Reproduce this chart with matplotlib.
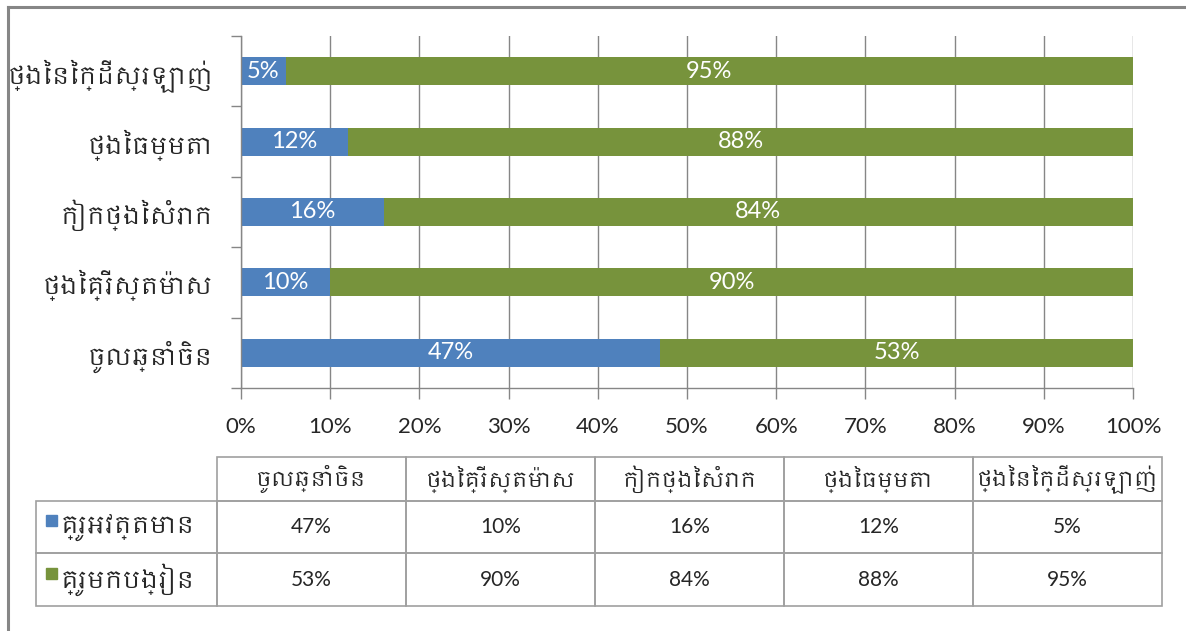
import matplotlib
matplotlib.use("Agg")
from matplotlib import pyplot as plt
from matplotlib import font_manager
from matplotlib.lines import Line2D
from matplotlib.patches import Rectangle
import numpy as np

# data
categories = ['ចូលឆ្នាំចិន', 'ថ្ងៃគ្រីស្តម៉ាស', 'កៀកថ្ងៃសំរាក', 'ថ្ងៃធម្មតា', 'ថ្ងៃនៃក្ដីស្រឡាញ់']
series_names = ['គ្រូអវត្តមាន', 'គ្រូមកបង្រៀន']
absent = [47, 10, 16, 12, 5]
present = [53, 90, 84, 88, 95]
x_ticks = list(range(0, 101, 10))

blue = '#4F81BD'
green = '#77933C'
grey = '#868686'
txt = '#262626'

# khmer font if any is installed
khmer = sorted({f.name for f in font_manager.fontManager.ttflist if 'khmer' in f.name.lower()})
kfam = khmer + ['Noto Sans', 'DejaVu Sans']
nfam = ['Lato', 'DejaVu Sans']

W, H = 1186, 631
fig = plt.figure(figsize=(W / 100, H / 100), dpi=100)

def fx(px):
    return px / W

def fy(py):
    return 1 - py / H

# bar chart area
ax = fig.add_axes([fx(241), fy(388), fx(1133) - fx(241), fy(36) - fy(388)])
y = np.arange(len(categories))
b1 = ax.barh(y, absent, height=0.4, color=blue, label=series_names[0])
b2 = ax.barh(y, present, left=absent, height=0.4, color=green, label=series_names[1])
ax.bar_label(b1, labels=[f'{v}%' for v in absent], label_type='center',
             color='white', fontsize=17, family=nfam)
ax.bar_label(b2, labels=[f'{v}%' for v in present], label_type='center',
             color='white', fontsize=17, family=nfam)

ax.set_xlim(0, 100)
ax.set_ylim(-0.5, len(categories) - 0.5)
ax.set_xticks(x_ticks)
ax.set_xticklabels([f'{t}%' for t in x_ticks], fontsize=16, family=nfam, color=txt)
ax.set_yticks(y)
ax.set_yticklabels(categories, fontsize=17, family=kfam, color=txt)
ax.set_yticks(np.arange(-0.5, len(categories)), minor=True)
ax.tick_params(axis='y', which='major', length=0, pad=20)
ax.tick_params(axis='y', which='minor', length=7, width=1, color=grey)
ax.tick_params(axis='x', length=8, width=1, color=grey, pad=13)
ax.grid(axis='x', color=grey, linewidth=1)
ax.set_axisbelow(True)
for s in ['top', 'right']:
    ax.spines[s].set_visible(False)
for s in ['left', 'bottom']:
    ax.spines[s].set_color(grey)
    ax.spines[s].set_linewidth(1)

# data table below
tx0, tx1, tw0 = 36, 1162, 181
ty = [457, 501, 553, 606]
tab = fig.add_axes([fx(tx0), fy(ty[-1]), fx(tx1) - fx(tx0), fy(ty[0]) - fy(ty[-1])])
tab.set_xlim(tx0, tx1)
tab.set_ylim(ty[-1], ty[0])
tab.axis('off')
cw = (tx1 - tx0 - tw0) / len(categories)
edges = [tx0, tx0 + tw0] + [tx0 + tw0 + cw * (i + 1) for i in range(len(categories))]

def cell(x0, x1, y0, y1):
    tab.add_patch(Rectangle((x0, y0), x1 - x0, y1 - y0, fill=False,
                            edgecolor='#A0A0A0', linewidth=1.2, clip_on=False))

for i, c in enumerate(categories):
    x0, x1 = edges[i + 1], edges[i + 2]
    cell(x0, x1, ty[0], ty[1])
    tab.text((x0 + x1) / 2, (ty[0] + ty[1]) / 2, c, ha='center', va='center',
             fontsize=15, family=kfam, color=txt)

rows = [absent, present]
colors = [blue, green]
for r, vals in enumerate(rows):
    y0, y1 = ty[r + 1], ty[r + 2]
    cell(edges[0], edges[1], y0, y1)
    tab.add_patch(Rectangle((edges[0] + 10, (y0 + y1) / 2 - 12), 11, 11,
                            color=colors[r], clip_on=False))
    tab.text(edges[0] + 25, (y0 + y1) / 2, series_names[r], ha='left', va='center',
             fontsize=17, family=kfam, color=txt)
    for i, v in enumerate(vals):
        x0, x1 = edges[i + 1], edges[i + 2]
        cell(x0, x1, y0, y1)
        tab.text((x0 + x1) / 2, (y0 + y1) / 2, f'{v}%', ha='center', va='center',
                 fontsize=15, family=nfam, color=txt)

# outer frame of the chart
fig.add_artist(Line2D([fx(8), fx(8)], [0, fy(7)], color=grey, linewidth=2.2))
fig.add_artist(Line2D([fx(8), 1], [fy(7), fy(7)], color=grey, linewidth=2.2))

fig.savefig('out.png', dpi=100)
